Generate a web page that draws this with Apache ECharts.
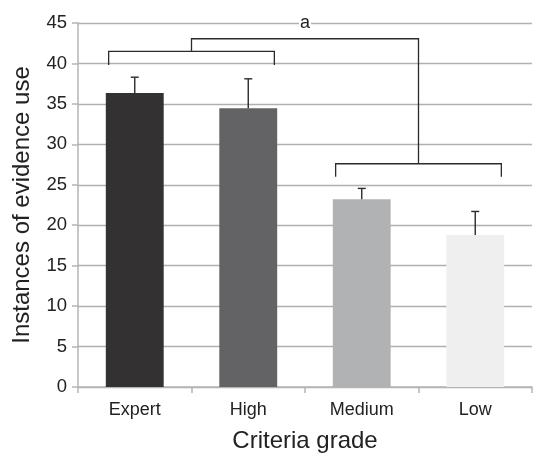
<!DOCTYPE html>
<html>
<head>
<meta charset="utf-8">
<script src="https://cdn.jsdelivr.net/npm/echarts@6/dist/echarts.min.js"></script>
<style>
  html, body { margin: 0; padding: 0; background: #fff; }
  #chart { width: 534px; height: 458px; }
</style>
</head>
<body>
<div id="chart"></div>
<script>
// Criteria grades and mean instances of evidence use
const categories = ['Expert', 'High', 'Medium', 'Low'];
const meanUse = [36.35, 34.45, 23.2, 18.8];
const errorUp = [1.95, 3.65, 1.35, 2.9];
const yTicks = [0, 5, 10, 15, 20, 25, 30, 35, 40, 45];

// Significance brackets: pairs of grades, bar level and leg end (axis units)
const bracketPairs = [[0, 1], [2, 3]];
const bracketLevel = [41.5, 27.6];
const bracketFoot = [39.8, 26.0];
const linkLevel = 43.05;
const sigLabel = 'a';
const sigLabelLevel = 45;

const palette = ['#333132', '#636365', '#b1b2b4', '#efeff0'];
const FONT = '"Liberation Sans", Arial, sans-serif';

const chart = echarts.init(document.getElementById('chart'), null, { renderer: 'canvas' });

const lineStyle = { stroke: '#2b2b2b', lineWidth: 1.3, fill: null };

chart.setOption({
  animation: false,
  backgroundColor: '#ffffff',
  grid: { left: 78, right: 2, top: 23, bottom: 64 },
  xAxis: {
    type: 'category',
    data: categories,
    name: 'Criteria grade',
    nameLocation: 'middle',
    nameGap: 42,
    nameTextStyle: { fontFamily: FONT, fontSize: 24, color: '#222' },
    axisLine: { lineStyle: { color: '#b5b5b5', width: 1.5 } },
    axisTick: { show: true, length: 6, lineStyle: { color: '#b5b5b5', width: 1.5 } },
    axisLabel: { fontFamily: FONT, fontSize: 18, color: '#222', margin: 14 }
  },
  yAxis: {
    type: 'value',
    min: yTicks[0],
    max: yTicks[yTicks.length - 1],
    interval: yTicks[1] - yTicks[0],
    name: 'Instances of evidence use',
    nameLocation: 'middle',
    nameGap: 44,
    nameTextStyle: { fontFamily: FONT, fontSize: 24, color: '#222' },
    axisLine: { show: true, lineStyle: { color: '#b5b5b5', width: 1.5 } },
    axisTick: { show: true, length: 6, lineStyle: { color: '#b5b5b5', width: 1.5 } },
    axisLabel: { fontFamily: FONT, fontSize: 18.5, color: '#222', margin: 11 },
    splitLine: { show: true, lineStyle: { color: '#b0b0b0', width: 1.3 } }
  },
  series: [
    {
      type: 'bar',
      barWidth: '51%',
      data: meanUse.map((v, i) => ({ value: v, itemStyle: { color: palette[i] } })),
      z: 2
    },
    {
      // upper error whiskers
      type: 'custom',
      data: meanUse.map((v, i) => [i, v, v + errorUp[i]]),
      encode: { x: 0, y: [1, 2] },
      z: 3,
      renderItem: function (params, api) {
        const base = api.coord([api.value(0), api.value(1)]);
        const top = api.coord([api.value(0), api.value(2)]);
        const cap = 4;
        return {
          type: 'group',
          children: [
            { type: 'line', shape: { x1: base[0], y1: base[1], x2: top[0], y2: top[1] }, style: { stroke: '#2b2b2b', lineWidth: 1.4 } },
            { type: 'line', shape: { x1: top[0] - cap, y1: top[1], x2: top[0] + cap, y2: top[1] }, style: { stroke: '#2b2b2b', lineWidth: 1.4 } }
          ]
        };
      }
    },
    {
      // significance brackets linking the two grade pairs
      type: 'custom',
      data: [[0, 0]],
      encode: { x: 0, y: 1 },
      clip: false,
      z: 4,
      renderItem: function (params, api) {
        const band = api.size([1, 0])[0];
        const off = band * 0.23;
        const children = [];
        const mids = [];
        bracketPairs.forEach((pair, k) => {
          const l = api.coord([pair[0], bracketLevel[k]]);
          const r = api.coord([pair[1], bracketLevel[k]]);
          const foot = api.coord([pair[0], bracketFoot[k]])[1];
          const xl = l[0] - off, xr = r[0] + off;
          children.push({
            type: 'polyline',
            shape: { points: [[xl, foot], [xl, l[1]], [xr, l[1]], [xr, foot]] },
            style: lineStyle
          });
          mids.push([(xl + xr) / 2, l[1]]);
        });
        const linkY = api.coord([0, linkLevel])[1];
        children.push({
          type: 'polyline',
          shape: { points: [[mids[0][0], mids[0][1]], [mids[0][0], linkY], [mids[1][0], linkY], [mids[1][0], mids[1][1]]] },
          style: lineStyle
        });
        const labelY = api.coord([0, sigLabelLevel])[1];
        children.push({
          type: 'text',
          x: (mids[0][0] + mids[1][0]) / 2,
          y: labelY,
          style: {
            text: sigLabel,
            fontFamily: FONT,
            fontSize: 18,
            fill: '#222',
            align: 'center',
            verticalAlign: 'middle',
            backgroundColor: '#fff',
            padding: [0, 1]
          }
        });
        return { type: 'group', children: children };
      }
    }
  ]
});
</script>
</body>
</html>
